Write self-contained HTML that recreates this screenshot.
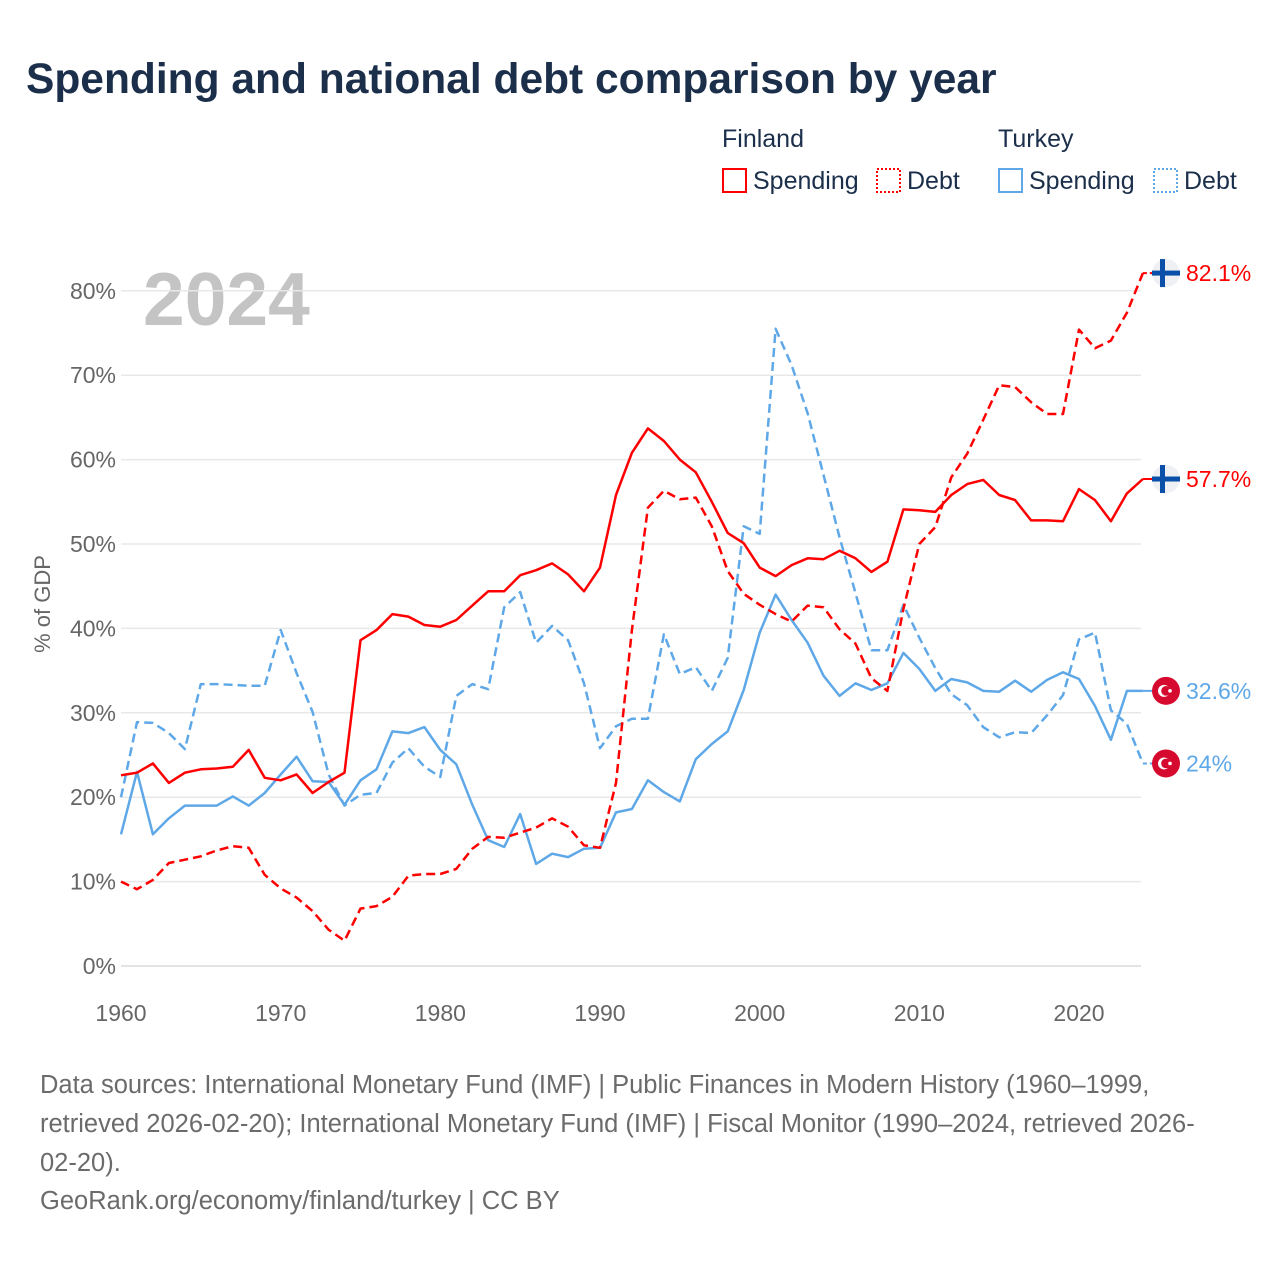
<!DOCTYPE html>
<html><head><meta charset="utf-8"><style>
body{margin:0;background:#fff;}
svg text{font-family:"Liberation Sans","DejaVu Sans",sans-serif;}
</style></head><body>
<svg id="chart" width="1280" height="1280" viewBox="0 0 1280 1280" xmlns="http://www.w3.org/2000/svg">
<text x="26" y="93" font-size="42.5" font-weight="bold" fill="#1b2f4b">Spending and national debt comparison by year</text>
<g>
<text x="722" y="147" font-size="25" fill="#1b2f4b">Finland</text>
<text x="998" y="147" font-size="25" fill="#1b2f4b">Turkey</text>
<g><rect x="723" y="169" width="23" height="23" fill="none" stroke="#ff0000" stroke-width="2"/><text x="753" y="189" font-size="25" fill="#1b2f4b">Spending</text></g>
<g><rect x="877" y="169" width="23" height="23" fill="none" stroke="#ff0000" stroke-width="2" stroke-dasharray="2,2"/><text x="907" y="189" font-size="25" fill="#1b2f4b">Debt</text></g>
<g><rect x="999" y="169" width="23" height="23" fill="none" stroke="#5fa8e8" stroke-width="2"/><text x="1029" y="189" font-size="25" fill="#1b2f4b">Spending</text></g>
<g><rect x="1154" y="169" width="23" height="23" fill="none" stroke="#5fa8e8" stroke-width="2" stroke-dasharray="2,2"/><text x="1184" y="189" font-size="25" fill="#1b2f4b">Debt</text></g>
</g>
<text x="143" y="325" font-size="75" font-weight="bold" fill="#c4c4c4">2024</text>
<text transform="translate(50,604) rotate(-90)" text-anchor="middle" font-size="22" fill="#666">% of GDP</text>
<g id="grid"></g><g id="series"></g><g id="ends"></g>
<g font-size="25.5" fill="#6b6b6b">
<text x="40" y="1093">Data sources: International Monetary Fund (IMF) | Public Finances in Modern History (1960–1999,</text>
<text x="40" y="1132">retrieved 2026-02-20); International Monetary Fund (IMF) | Fiscal Monitor (1990–2024, retrieved 2026-</text>
<text x="40" y="1171">02-20).</text>
<text x="40" y="1209">GeoRank.org/economy/finland/turkey | CC BY</text>
</g>
</svg>
<script>
const startYear = 1960;
const yTicks = [0,10,20,30,40,50,60,70,80];
const xTicks = [1960,1970,1980,1990,2000,2010,2020];
const finlandSpending = [22.6,22.9,24.0,21.7,22.9,23.3,23.4,23.6,25.6,22.3,22.0,22.7,20.5,21.8,22.9,38.6,39.8,41.7,41.4,40.4,40.2,41.0,42.7,44.4,44.4,46.3,46.9,47.7,46.4,44.4,47.2,55.8,60.8,63.7,62.2,60.0,58.5,55.0,51.3,50.1,47.2,46.2,47.5,48.3,48.2,49.2,48.3,46.7,47.9,54.1,54.0,53.8,55.8,57.1,57.6,55.8,55.2,52.8,52.8,52.7,56.5,55.2,52.7,56.0,57.7];
const finlandDebt = [10.0,9.1,10.2,12.2,12.6,13.0,13.7,14.2,14.0,10.8,9.2,8.1,6.5,4.3,3.0,6.8,7.1,8.2,10.7,10.9,10.9,11.5,13.9,15.3,15.2,15.8,16.4,17.5,16.5,14.3,14.0,21.7,39.8,54.3,56.3,55.3,55.5,52.1,46.8,44.1,42.8,41.7,40.8,42.7,42.5,39.9,38.2,34.1,32.6,42.3,50.0,52.0,57.9,60.7,64.7,68.8,68.6,66.8,65.4,65.4,75.4,73.2,74.1,77.4,82.1];
const turkeySpending = [15.6,23.0,15.6,17.5,19.0,19.0,19.0,20.1,19.0,20.5,22.7,24.8,21.9,21.8,19.1,22.0,23.3,27.8,27.6,28.3,25.6,23.9,19.1,14.9,14.1,18.0,12.1,13.3,12.9,13.9,14.0,18.2,18.6,22.0,20.6,19.5,24.5,26.3,27.8,32.7,39.5,44.0,41.0,38.3,34.4,32.0,33.5,32.7,33.5,37.1,35.2,32.6,34.0,33.6,32.6,32.5,33.8,32.5,33.9,34.8,34.0,30.8,26.8,32.6,32.6];
const turkeyDebt = [20.0,28.9,28.8,27.6,25.7,33.4,33.4,33.3,33.2,33.2,39.8,34.7,30.1,22.7,19.0,20.3,20.5,24.1,25.8,23.6,22.4,32.0,33.4,32.8,42.5,44.3,38.3,40.3,38.6,33.5,25.8,28.4,29.3,29.3,39.3,34.6,35.4,32.6,36.5,52.1,51.2,75.5,71.2,65.5,58.2,50.8,44.2,37.4,37.4,42.8,38.9,35.3,32.2,30.9,28.3,27.1,27.7,27.6,29.7,32.1,38.7,39.5,30.3,28.7,24.0];

const NS="http://www.w3.org/2000/svg";
const xs = y => 121 + (y-1960)*(958/60);
const ys = v => 966 - v*8.44;
function mk(tag, attrs, parent){const e=document.createElementNS(NS,tag);for(const k in attrs)e.setAttribute(k,attrs[k]);parent.appendChild(e);return e;}
const grid=document.getElementById('grid');
yTicks.forEach(t=>{
  const l=mk('line',{x1:121,x2:1141,y1:ys(t),y2:ys(t),stroke:t===0?'#dcdcdc':'#e8e8e8','stroke-width':1.5},grid);
  
  
  const tx=mk('text',{x:116,y:ys(t)+8,'text-anchor':'end','font-size':23,fill:'#666'},grid);
  tx.textContent=t+'%';
  
  
});
xTicks.forEach(t=>{
  const tx=mk('text',{x:xs(t),y:1021,'text-anchor':'middle','font-size':23,fill:'#666'},grid);
  tx.textContent=t;
  
  
});
const ser=document.getElementById('series');
function line(data,color,dash,name){
  const d=data.map((v,i)=>(i?'L':'M')+xs(startYear+i).toFixed(1)+','+ys(v).toFixed(1)).join(' ');
  const p=mk('path',{d:d,fill:'none',stroke:color,'stroke-width':2.5,'stroke-linejoin':'round'},ser);
  if(dash)p.setAttribute('stroke-dasharray',dash);
  
  
}
line(turkeyDebt,'#5fa8e8','9,5','turkey-debt-line');
line(turkeySpending,'#5fa8e8',null,'turkey-spending-line');
line(finlandDebt,'#ff0000','9,5','finland-debt-line');
line(finlandSpending,'#ff0000',null,'finland-spending-line');
const ends=document.getElementById('ends');
function endMark(data,color,country,label,dash){
  const v=data[data.length-1];const y=ys(v);const x0=xs(startYear+data.length-1);
  const c=mk('line',{x1:x0,x2:1160,y1:y,y2:y,stroke:color,'stroke-width':2},ends);
  if(dash)c.setAttribute('stroke-dasharray','4,3');
  
  
  const g=mk('g',{},ends);
  
  
  if(country==='fi'){
    mk('circle',{cx:1166,cy:y,r:14,fill:'#eef0f3'},g);
    mk('rect',{x:1152,y:y-2.5,width:28,height:5,fill:'#0a4fa8'},g);
    mk('rect',{x:1160,y:y-14,width:5,height:28,fill:'#0a4fa8'},g);
  } else {
    mk('circle',{cx:1166,cy:y,r:14,fill:'#d60a2e'},g);
    mk('circle',{cx:1164,cy:y,r:6,fill:'#fff'},g);
    mk('circle',{cx:1166,cy:y,r:4.8,fill:'#d60a2e'},g);
    mk('circle',{cx:1170,cy:y,r:1.8,fill:'#fff'},g);
  }
  const t=mk('text',{x:1186,y:y+8,'font-size':23,fill:color},ends);
  t.textContent=(Math.round(v*10)/10)+'%';
  
  
}
endMark(finlandDebt,'#ff0000','fi','finland-debt',true);
endMark(finlandSpending,'#ff0000','fi','finland-spending',false);
endMark(turkeySpending,'#5fa8e8','tr','turkey-spending',false);
endMark(turkeyDebt,'#5fa8e8','tr','turkey-debt',true);
</script>
</body></html>
